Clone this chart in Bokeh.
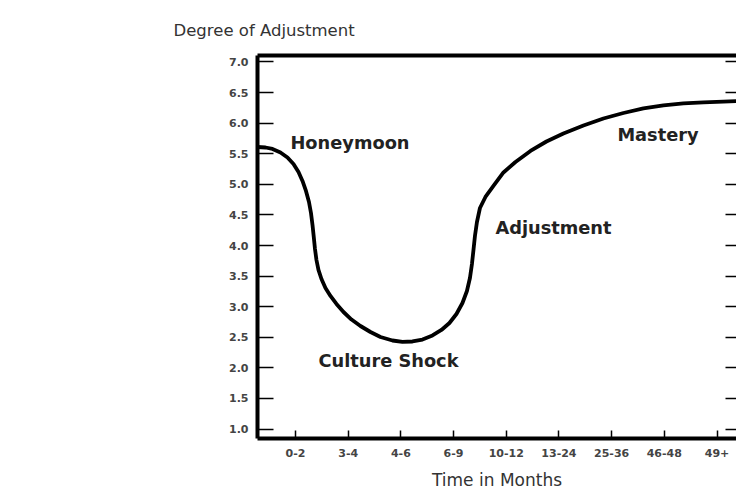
from bokeh.plotting import figure
from bokeh.models import (LinearAxis, FixedTicker, Range1d, PrintfTickFormatter,
                          ColumnDataSource, CustomJSTickFormatter)
from bokeh.core.properties import value
from bokeh.embed import file_html
from bokeh.resources import INLINE

# ---- data ----
time_labels = ["0-2", "3-4", "4-6", "6-9", "10-12", "13-24", "25-36", "46-48", "49+"]
time_pos = [1, 2, 3, 4, 5, 6, 7, 8, 9]
y_ticks = [1.0, 1.5, 2.0, 2.5, 3.0, 3.5, 4.0, 4.5, 5.0, 5.5, 6.0, 6.5, 7.0]

curve_x = [0.279, 0.431, 0.564, 0.715, 0.848, 0.962, 1.057, 1.133, 1.199, 1.256,
           1.294, 1.323, 1.347, 1.370, 1.398, 1.436, 1.493, 1.569, 1.664, 1.778,
           1.911, 2.063, 2.233, 2.423, 2.613, 2.841, 3.030, 3.220, 3.410, 3.600,
           3.770, 3.922, 4.055, 4.169, 4.254, 4.311, 4.349, 4.378, 4.406, 4.444,
           4.501, 4.605, 4.757, 4.947, 5.175, 5.460, 5.763, 6.085, 6.465, 6.844,
           7.224, 7.603, 7.983, 8.362, 8.742, 9.121, 9.425]
curve_y = [5.610, 5.602, 5.578, 5.520, 5.439, 5.333, 5.202, 5.055, 4.891, 4.711,
           4.531, 4.335, 4.139, 3.943, 3.763, 3.600, 3.452, 3.305, 3.175, 3.044,
           2.913, 2.790, 2.684, 2.586, 2.504, 2.447, 2.423, 2.431, 2.463, 2.529,
           2.619, 2.733, 2.880, 3.060, 3.256, 3.469, 3.698, 3.927, 4.155, 4.384,
           4.613, 4.793, 4.973, 5.194, 5.365, 5.545, 5.700, 5.831, 5.962, 6.076,
           6.166, 6.240, 6.289, 6.322, 6.341, 6.351, 6.362]

phase_names = ["Honeymoon", "Culture Shock", "Adjustment", "Mastery"]
phase_x = [0.905, 1.436, 4.795, 7.110]
phase_y = [5.686, 2.127, 4.298, 5.816]

FONT = "DejaVu Sans"
TXT = "#333333"

p = figure(frame_width=479, frame_height=383,
           x_range=Range1d(0.279, 9.37), y_range=Range1d(0.845, 7.106),
           output_backend="svg", toolbar_location=None,
           min_border_left=257, min_border_right=0, min_border_top=55,
           min_border_bottom=10, background_fill_color="white",
           border_fill_color="white")
p.outline_line_color = None
p.xgrid.visible = False
p.ygrid.visible = False

# title (y-axis caption at top-left)
p.title.text = "Degree of Adjustment"
p.title.align = "left"
p.title.offset = -84
p.title.text_font = FONT
p.title.text_font_size = "16.5px"
p.title.text_font_style = "normal"
p.title.text_color = TXT
p.title.standoff = 31

# bottom axis
xa = p.xaxis[0]
xa.ticker = FixedTicker(ticks=time_pos)
xa.major_label_overrides = {t: l for t, l in zip(time_pos, time_labels)}
xa.major_tick_in = 8
xa.major_tick_out = 0
xa.major_tick_line_width = 1.5
xa.minor_tick_line_color = None
xa.axis_line_width = 4
xa.major_label_text_font = FONT
xa.major_label_text_font_size = "11px"
xa.major_label_text_font_style = "bold"
xa.major_label_text_color = "#444444"
xa.major_label_standoff = 10
xa.axis_label = "Time in Months"
xa.axis_label_text_font = FONT
xa.axis_label_text_font_size = "17px"
xa.axis_label_text_font_style = "normal"
xa.axis_label_text_color = TXT
xa.axis_label_standoff = 10

# left axis
ya = p.yaxis[0]
ya.ticker = FixedTicker(ticks=y_ticks)
ya.formatter = PrintfTickFormatter(format="%.1f")
ya.major_tick_in = 16
ya.major_tick_out = 0
ya.major_tick_line_width = 1.5
ya.minor_tick_line_color = None
ya.axis_line_width = 4
ya.major_label_text_font = FONT
ya.major_label_text_font_size = "11px"
ya.major_label_text_color = "#444444"
ya.major_label_text_font_style = "bold"
ya.major_label_standoff = 9

# right ticks (no line, no labels)
ra = LinearAxis(ticker=FixedTicker(ticks=y_ticks),
                formatter=CustomJSTickFormatter(code="return ''"),
                major_tick_in=11, major_tick_out=0, major_tick_line_width=1.5,
                minor_tick_line_color=None, axis_line_color=None,
                major_label_standoff=0)
p.add_layout(ra, "right")

# top border
ta = LinearAxis(ticker=FixedTicker(ticks=[]),
                formatter=CustomJSTickFormatter(code="return ''"),
                major_tick_line_color=None, minor_tick_line_color=None,
                axis_line_width=4, major_label_standoff=0)
p.add_layout(ta, "above")

# curve
src = ColumnDataSource(dict(x=curve_x, y=curve_y))
p.line("x", "y", source=src, line_color="black", line_width=3.8, line_join="round",
       line_cap="round")

# phase labels
lab = ColumnDataSource(dict(x=phase_x, y=phase_y, t=phase_names))
p.text("x", "y", text="t", source=lab, text_font=value(FONT), text_font_size="17.8px",
       text_font_style="bold", text_color="#222222", text_align="left",
       text_baseline="middle")

open("out.html", "w").write(file_html(p, INLINE))
